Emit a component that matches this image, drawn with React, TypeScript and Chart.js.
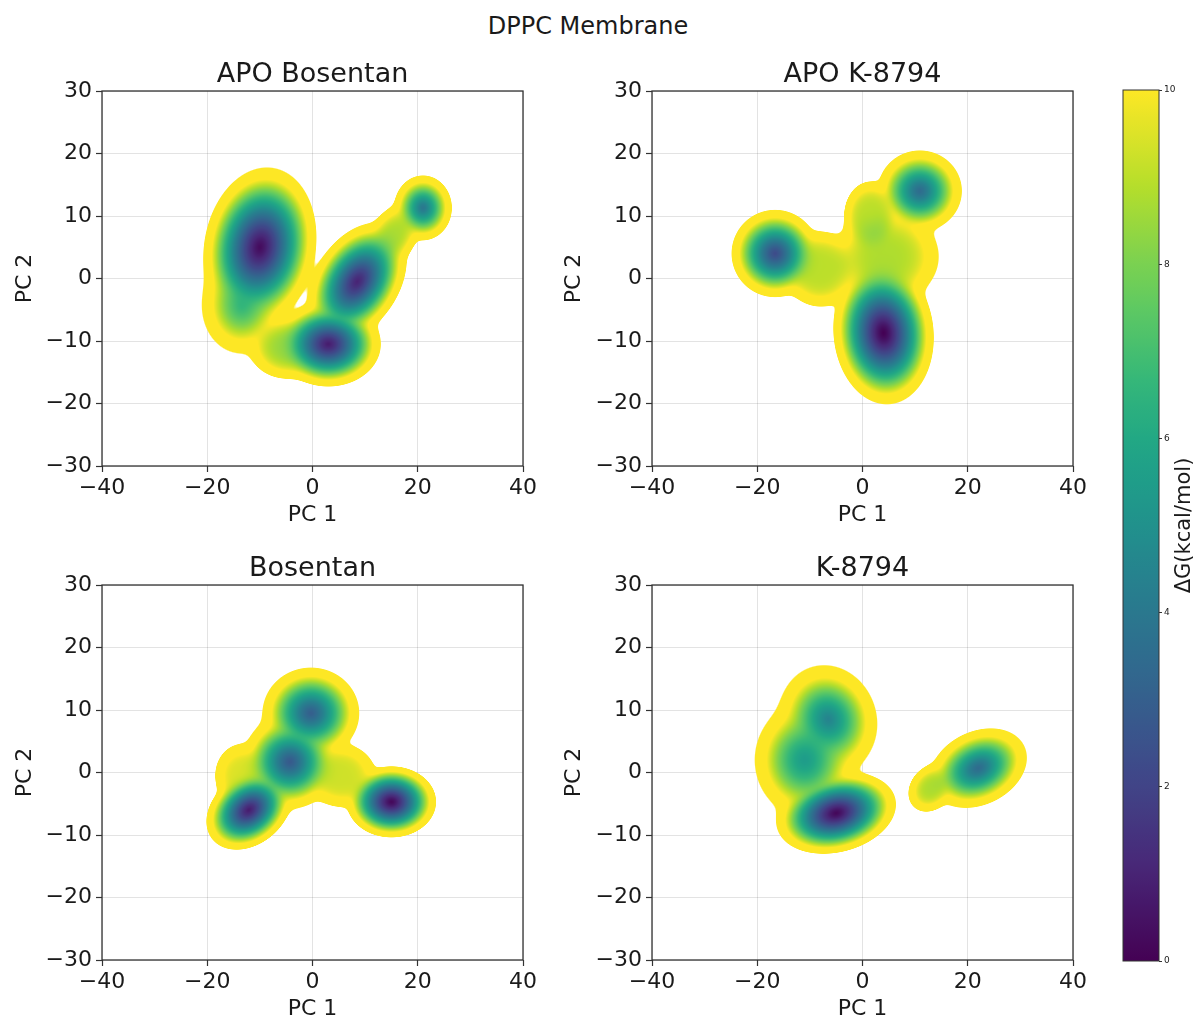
import React, { useEffect, useRef } from 'react';
import { Chart, registerables } from 'chart.js';

Chart.register(...registerables);
Chart.defaults.font.family = "'DejaVu Sans', 'Liberation Sans', sans-serif";

if (typeof document !== 'undefined') {
  document.body.style.margin = '0';
}

// ---------------- data ----------------
const SUPTITLE = 'DPPC Membrane';
const PANEL_TITLES = ['APO Bosentan', 'APO K-8794', 'Bosentan', 'K-8794'];
const X_LABEL = 'PC 1';
const Y_LABEL = 'PC 2';
const CBAR_LABEL = 'ΔG(kcal/mol)';
const X_TICKS = [-40, -20, 0, 20, 40];
const Y_TICKS = [-30, -20, -10, 0, 10, 20, 30];
const CBAR_TICKS = [0, 2, 4, 6, 8, 10];
const G_MIN = 0;
const G_MAX = 10; // colour scale saturates here
const G_CUT = 12.5; // sampled-region boundary (white outside)
const KT = 1.2;

// free-energy basins:
// [PC1 centre, PC2 centre, ΔG at minimum, radius PC1 (to region edge), radius PC2, tilt deg, wall steepness]
type Basin = [number, number, number, number, number, number, number];

const APO_BOSENTAN_BASINS: Basin[] = [
  [-10, 5, 0.3, 10.5, 13, -18, 1.4],
  [-13.5, -4.5, 6.8, 7.5, 7.5, 0, 1.6],
  [-5, -11, 8.5, 7, 5, 0, 3],
  [3, -10.5, 0.8, 10, 6.8, 0, 1.4],
  [8.5, -0.5, 1.0, 7.5, 11, -45, 1.4],
  [15.5, 7, 8.8, 5.5, 4, 45, 3],
  [21, 11.3, 4, 5.5, 5.2, 0, 1.4],
];

const APO_K8794_BASINS: Basin[] = [
  [-16.6, 4, 2.3, 8.3, 7, 0, 1.4],
  [10.9, 14, 3.5, 8, 6.5, 0, 1.4],
  [4, -8.7, 0.0, 9.5, 11.5, 10, 1.4],
  [4.5, 3.5, 8.8, 10, 7.5, 0, 3.5],
  [-8, 1.5, 9, 7, 6, 0, 4],
  [1.5, 10, 9, 5, 5.5, 0, 4],
];

const BOSENTAN_BASINS: Basin[] = [
  [-12.1, -6, 0.8, 8.5, 5.8, 25, 1.4],
  [-4.3, 1.7, 2.8, 9, 7.5, 0, 1.4],
  [-0.3, 9.5, 3, 9.2, 7.3, 0, 1.4],
  [15, -4.7, 0.2, 8.5, 5.7, 0, 1.4],
  [5.5, -0.5, 9.3, 6.5, 5, 0, 4],
  [-13.5, -0.5, 9.5, 5, 5, 0, 4],
];

const K8794_BASINS: Basin[] = [
  [-5, -6.5, 0.2, 11.5, 6.3, 10, 1.4],
  [-6.5, 8.5, 4.5, 9.5, 8.5, -25, 1.4],
  [-11, 2, 5.5, 9.5, 9, 0, 1.6],
  [22, 0.7, 3.5, 9.5, 6, 17, 1.4],
  [13, -2.5, 8.8, 4.5, 3.5, 30, 3],
];

const PANEL_BASINS = [APO_BOSENTAN_BASINS, APO_K8794_BASINS, BOSENTAN_BASINS, K8794_BASINS];

// viridis colormap stops
const VIRIDIS_POS = [0, 0.111, 0.2, 0.222, 0.25, 0.333, 0.4, 0.444, 0.5, 0.556, 0.6, 0.667, 0.75, 0.778, 0.8, 0.889, 1];
const VIRIDIS_HEX = ['#440154', '#482878', '#414487', '#3e4989', '#3b528b', '#31688e', '#2a788e', '#26828e', '#21918c', '#1f9e89', '#22a884', '#35b779', '#5ec962', '#6ece58', '#7ad151', '#b5de2b', '#fde725'];

// ---------------- helpers ----------------
const VIRIDIS_RGB = VIRIDIS_HEX.map((h) => [
  parseInt(h.slice(1, 3), 16),
  parseInt(h.slice(3, 5), 16),
  parseInt(h.slice(5, 7), 16),
]);

function viridis(t: number): number[] {
  const tt = Math.max(0, Math.min(1, t));
  for (let k = 1; k < VIRIDIS_POS.length; k++) {
    if (tt <= VIRIDIS_POS[k]) {
      const a = VIRIDIS_POS[k - 1];
      const b = VIRIDIS_POS[k];
      const f = (tt - a) / (b - a);
      const c0 = VIRIDIS_RGB[k - 1];
      const c1 = VIRIDIS_RGB[k];
      return [c0[0] + (c1[0] - c0[0]) * f, c0[1] + (c1[1] - c0[1]) * f, c0[2] + (c1[2] - c0[2]) * f];
    }
  }
  return VIRIDIS_RGB[VIRIDIS_RGB.length - 1];
}

const fmtTick = (v: any) => {
  const n = Number(v);
  return n < 0 ? '\u2212' + Math.abs(n) : String(n);
};

const TEXT = '#1a1a1a';
const SPINE = '#333333';
const GRID = 'rgba(0,0,0,0.11)';

function makePanelPlugin(basins: Basin[], title: string) {
  const pre = basins.map(([cx, cy, d, rx, ry, ang, p]) => {
    const t = (ang * Math.PI) / 180;
    return { cx, cy, d, rx, ry, c: Math.cos(t), s: Math.sin(t), e: p / 2 };
  });
  return {
    id: 'landscape',
    beforeDatasetsDraw(chart: any) {
      const { left, top, right, bottom } = chart.chartArea;
      const x0 = Math.round(left);
      const y0 = Math.round(top);
      const w = Math.round(right) - x0;
      const h = Math.round(bottom) - y0;
      const off = document.createElement('canvas');
      off.width = w;
      off.height = h;
      const octx = off.getContext('2d')!;
      const img = octx.createImageData(w, h);
      const xs = chart.scales.x;
      const ys = chart.scales.y;
      const xv = new Float64Array(w);
      const yv = new Float64Array(h);
      for (let i = 0; i < w; i++) xv[i] = xs.getValueForPixel(x0 + i + 0.5);
      for (let j = 0; j < h; j++) yv[j] = ys.getValueForPixel(y0 + j + 0.5);
      const q = new Float64Array(pre.length);
      for (let j = 0; j < h; j++) {
        const y = yv[j];
        for (let i = 0; i < w; i++) {
          const x = xv[i];
          let qmin = Infinity;
          for (let k = 0; k < pre.length; k++) {
            const b = pre[k];
            const dx = x - b.cx;
            const dy = y - b.cy;
            const u = (dx * b.c + dy * b.s) / b.rx;
            const v = (-dx * b.s + dy * b.c) / b.ry;
            const val = b.d + (G_CUT - b.d) * Math.pow(u * u + v * v, b.e);
            q[k] = val;
            if (val < qmin) qmin = val;
          }
          if (qmin > G_CUT + 4) continue;
          let sum = 0;
          for (let k = 0; k < pre.length; k++) sum += Math.exp(-(q[k] - qmin) / KT);
          const g = qmin - KT * Math.log(sum);
          const a = Math.max(0, Math.min(1, (G_CUT + 0.1 - g) / 0.25));
          if (a <= 0) continue;
          const col = viridis((Math.min(g, G_MAX) - G_MIN) / (G_MAX - G_MIN));
          const p = (j * w + i) * 4;
          img.data[p] = col[0];
          img.data[p + 1] = col[1];
          img.data[p + 2] = col[2];
          img.data[p + 3] = Math.round(a * 255);
        }
      }
      octx.putImageData(img, 0, 0);
      chart.ctx.drawImage(off, x0, y0);
    },
    afterDraw(chart: any) {
      const { left, top, right, bottom } = chart.chartArea;
      const ctx = chart.ctx;
      ctx.save();
      ctx.strokeStyle = SPINE;
      ctx.lineWidth = 1.3;
      ctx.strokeRect(left, top, right - left, bottom - top);
      ctx.fillStyle = TEXT;
      ctx.font = "27px 'DejaVu Sans', sans-serif";
      ctx.textAlign = 'center';
      ctx.textBaseline = 'alphabetic';
      ctx.fillText(title, (left + right) / 2, top - 9);
      ctx.restore();
    },
  };
}

interface PanelProps {
  index: number;
  left: number;
  top: number;
  width: number;
  yAxisWidth: number;
  padRight: number;
  yTitlePad: number;
}

const PLOT_H = 375;
const PAD_TOP = 51;
const X_AXIS_H = 62;

function Panel({ index, left, top, width, yAxisWidth, padRight, yTitlePad }: PanelProps) {
  const ref = useRef<HTMLCanvasElement>(null);
  const height = PAD_TOP + PLOT_H + X_AXIS_H;
  useEffect(() => {
    const basins = PANEL_BASINS[index];
    const chart = new Chart(ref.current!, {
      type: 'scatter',
      data: {
        datasets: [
          {
            label: PANEL_TITLES[index] + ' minima',
            data: basins.map((b) => ({ x: b[0], y: b[1] })),
            pointRadius: 0,
            showLine: false,
          },
        ],
      },
      options: {
        animation: false,
        responsive: false,
        devicePixelRatio: 1,
        events: [],
        layout: { padding: { top: PAD_TOP, right: padRight, left: 0, bottom: 0 } },
        plugins: { legend: { display: false }, tooltip: { enabled: false }, title: { display: false } },
        scales: {
          x: {
            type: 'linear',
            min: X_TICKS[0],
            max: X_TICKS[X_TICKS.length - 1],
            afterBuildTicks: (s: any) => {
              s.ticks = X_TICKS.map((v) => ({ value: v }));
            },
            afterFit: (s: any) => {
              s.height = X_AXIS_H;
            },
            ticks: { font: { size: 22 }, color: TEXT, padding: 3, callback: fmtTick, maxRotation: 0, autoSkip: false },
            grid: { color: GRID, lineWidth: 1, tickColor: SPINE, tickLength: 6, tickWidth: 1.2 },
            border: { display: false },
            title: { display: true, text: X_LABEL, font: { size: 22 }, color: TEXT, padding: { top: 0, bottom: 0 } },
          },
          y: {
            type: 'linear',
            min: Y_TICKS[0],
            max: Y_TICKS[Y_TICKS.length - 1],
            afterBuildTicks: (s: any) => {
              s.ticks = Y_TICKS.map((v) => ({ value: v }));
            },
            afterFit: (s: any) => {
              s.width = yAxisWidth;
            },
            ticks: { font: { size: 22 }, color: TEXT, padding: 4, callback: fmtTick, autoSkip: false },
            grid: { color: GRID, lineWidth: 1, tickColor: SPINE, tickLength: 6, tickWidth: 1.2 },
            border: { display: false },
            title: { display: true, text: Y_LABEL, font: { size: 22 }, color: TEXT, padding: { top: yTitlePad, bottom: 0 } },
          },
        },
      },
      plugins: [makePanelPlugin(basins, PANEL_TITLES[index])],
    } as any);
    return () => chart.destroy();
  }, [index, yAxisWidth, padRight, yTitlePad]);
  return (
    <canvas
      ref={ref}
      width={width}
      height={height}
      style={{ position: 'absolute', left, top, width, height }}
    />
  );
}

function ColorBar({ left, top, width, height }: { left: number; top: number; width: number; height: number }) {
  const ref = useRef<HTMLCanvasElement>(null);
  useEffect(() => {
    const cbPlugin = {
      id: 'colorbar',
      beforeDatasetsDraw(chart: any) {
        const { left: l, top: t, right: r, bottom: b } = chart.chartArea;
        const ctx = chart.ctx;
        const grad = ctx.createLinearGradient(0, b, 0, t);
        for (let k = 0; k <= 60; k++) {
          const c = viridis(k / 60);
          grad.addColorStop(k / 60, `rgb(${Math.round(c[0])},${Math.round(c[1])},${Math.round(c[2])})`);
        }
        ctx.save();
        ctx.fillStyle = grad;
        ctx.fillRect(l, t, r - l, b - t);
        ctx.restore();
      },
      afterDraw(chart: any) {
        const { left: l, top: t, right: r, bottom: b } = chart.chartArea;
        const ctx = chart.ctx;
        ctx.save();
        ctx.strokeStyle = SPINE;
        ctx.lineWidth = 1;
        ctx.strokeRect(l, t, r - l, b - t);
        ctx.fillStyle = TEXT;
        ctx.font = "21px 'DejaVu Sans', sans-serif";
        ctx.textAlign = 'center';
        ctx.textBaseline = 'middle';
        ctx.translate(75, (t + b) / 2);
        ctx.rotate(-Math.PI / 2);
        ctx.fillText(CBAR_LABEL, 0, 0);
        ctx.restore();
      },
    };
    const chart = new Chart(ref.current!, {
      type: 'scatter',
      data: { datasets: [] },
      options: {
        animation: false,
        responsive: false,
        devicePixelRatio: 1,
        events: [],
        layout: { padding: { left: 13, top: 50, bottom: 19, right: 0 } },
        plugins: { legend: { display: false }, tooltip: { enabled: false } },
        scales: {
          x: { display: false, min: 0, max: 1 },
          y: {
            type: 'linear',
            position: 'right',
            min: G_MIN,
            max: G_MAX,
            afterBuildTicks: (s: any) => {
              s.ticks = CBAR_TICKS.map((v) => ({ value: v }));
            },
            afterFit: (s: any) => {
              s.width = width - 13 - 36;
            },
            ticks: { font: { size: 9 }, color: TEXT, padding: 2, autoSkip: false },
            grid: { drawOnChartArea: false, tickLength: 3, tickColor: SPINE, tickWidth: 1 },
            border: { display: false },
          },
        },
      },
      plugins: [cbPlugin],
    } as any);
    return () => chart.destroy();
  }, [width]);
  return (
    <canvas ref={ref} width={width} height={height} style={{ position: 'absolute', left, top, width, height }} />
  );
}

export default function App() {
  return (
    <div
      style={{
        position: 'relative',
        width: 1198,
        height: 1018,
        overflow: 'hidden',
        background: '#ffffff',
        fontFamily: "'DejaVu Sans', sans-serif",
      }}
    >
      <div
        style={{
          position: 'absolute',
          left: 388,
          top: 14,
          width: 400,
          textAlign: 'center',
          fontSize: 24,
          lineHeight: '24px',
          color: TEXT,
          whiteSpace: 'nowrap',
        }}
      >
        {SUPTITLE}
      </div>
      <Panel index={0} left={0} top={40} width={545} yAxisWidth={102} padRight={22} yTitlePad={12} />
      <Panel index={1} left={550} top={40} width={543} yAxisWidth={102} padRight={20} yTitlePad={11} />
      <Panel index={2} left={0} top={534} width={545} yAxisWidth={102} padRight={22} yTitlePad={12} />
      <Panel index={3} left={550} top={534} width={543} yAxisWidth={102} padRight={20} yTitlePad={11} />
      <ColorBar left={1110} top={40} width={88} height={940} />
    </div>
  );
}
